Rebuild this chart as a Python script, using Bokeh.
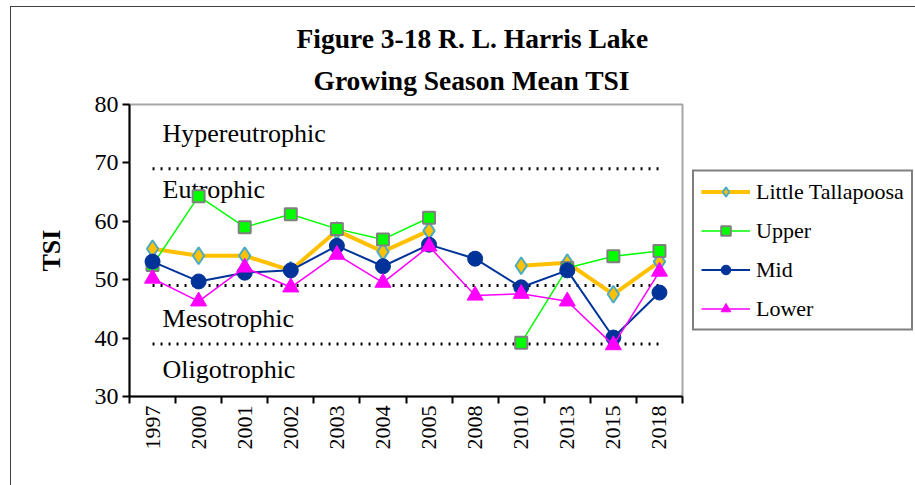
import math
import numpy as np
from bokeh.plotting import figure
from bokeh.models import (Range1d, LinearAxis, FixedTicker, Legend, LegendItem, Title)
from bokeh.core.properties import value
from bokeh.embed import file_html
from bokeh.resources import INLINE

# ---- data ----
years = ["1997", "2000", "2001", "2002", "2003", "2004", "2005", "2008", "2010", "2013", "2015", "2018"]
little_tallapoosa = [55.3, 54.1, 54.1, 51.6, 58.4, 54.8, 58.4, np.nan, 52.4, 52.9, 47.5, 53.1]
upper = [52.5, 64.3, 59.0, 61.2, 58.7, 56.9, 60.6, np.nan, 39.2, 52.0, 54.0, 54.9]
mid = [53.1, 49.7, 51.2, 51.6, 55.8, 52.3, 56.0, 53.6, 48.7, 51.6, 40.1, 47.8]
lower = [50.2, 46.3, 52.1, 48.7, 54.3, 49.5, 55.7, 47.3, 47.6, 46.3, 38.8, 51.4]
y_ticks = [30, 40, 50, 60, 70, 80]
zone_bounds = [69, 49, 39]
zone_names = ["Hypereutrophic", "Eutrophic", "Mesotrophic", "Oligotrophic"]
zone_label_y = [75.1, 65.5, 43.4, 34.7]
title_lines = ["Figure 3-18 R. L. Harris Lake", "Growing Season Mean TSI"]

FONT = "Liberation Serif"

# category slots: each year occupies one unit, centred at i + 0.5
n = len(years)
xc = [i + 0.5 for i in range(n)]

p = figure(frame_width=553, frame_height=292, x_range=Range1d(0, n), y_range=Range1d(30, 80),
           x_axis_location=None, output_backend="svg", toolbar_location=None,
           min_border_left=118, min_border_right=233, min_border_top=97, min_border_bottom=89,
           styles={"margin-left": "10px", "margin-top": "6px",
                   "border-left": "1px solid #404040", "border-top": "1px solid #404040"})
p.grid.visible = False
p.outline_line_color = "#a6a6a6"
p.outline_line_width = 2
p.background_fill_color = "white"
p.border_fill_color = "white"

# x axis: ticks at category boundaries, labels at centres
tick_axis = LinearAxis(ticker=FixedTicker(ticks=list(range(n + 1))),
                       major_label_overrides={i: "" for i in range(n + 1)},
                       major_label_text_font_size="1px", major_label_standoff=0,
                       major_tick_out=7, major_tick_in=0, minor_tick_line_color=None,
                       axis_line_width=2, major_tick_line_width=2,
                       axis_line_color="black", major_tick_line_color="black")
p.add_layout(tick_axis, "below")
label_axis = LinearAxis(ticker=FixedTicker(ticks=xc),
                        major_label_overrides={c: y for c, y in zip(xc, years)},
                        major_tick_line_color=None, minor_tick_line_color=None,
                        axis_line_color=None,
                        major_label_orientation=math.pi / 2, major_label_standoff=-4,
                        major_label_text_font=FONT, major_label_text_font_size="22px",
                        major_label_text_color="black")
p.add_layout(label_axis, "below")

# y axis
ya = p.yaxis[0]
ya.ticker = FixedTicker(ticks=y_ticks)
ya.major_tick_out = 7
ya.major_tick_in = 0
ya.minor_tick_line_color = None
ya.axis_line_width = 2
ya.major_tick_line_width = 2
ya.axis_line_color = "black"
ya.major_tick_line_color = "black"
ya.major_label_text_font = FONT
ya.major_label_text_font_size = "24px"
ya.major_label_text_color = "black"
ya.major_label_standoff = 4
ya.axis_label = "TSI"
ya.axis_label_text_font = FONT
ya.axis_label_text_font_style = "bold"
ya.axis_label_text_font_size = "26px"
ya.axis_label_text_color = "black"
ya.axis_label_standoff = 26

# zone boundaries
for b in zone_bounds:
    p.line(x=[xc[0], xc[-1]], y=[b, b], line_color="black", line_width=3, line_dash="2 6")

p.text(x=[xc[0]] * len(zone_names), y=zone_label_y, text=zone_names, x_offset=10,
       text_font=value(FONT), text_font_size="26px", text_color="black",
       text_baseline="alphabetic", text_align="left")

# series
items = []
r1 = p.line(xc, little_tallapoosa, line_color="#FFC000", line_width=4)
s1 = p.scatter(xc, little_tallapoosa, marker="diamond", size=17,
               fill_color="#FFC000", line_color="#4BACC6", line_width=2)
items.append(LegendItem(label="Little Tallapoosa", renderers=[r1, s1]))
r2 = p.line(xc, upper, line_color="#00FF00", line_width=1.5)
s2 = p.scatter(xc, upper, marker="square", size=12, fill_color="#00FF00",
               line_color="#808080", line_width=2)
items.append(LegendItem(label="Upper", renderers=[r2, s2]))
r3 = p.line(xc, mid, line_color="#003399", line_width=2)
s3 = p.scatter(xc, mid, marker="circle", size=15, fill_color="#003399",
               line_color="#003399", line_width=1)
items.append(LegendItem(label="Mid", renderers=[r3, s3]))
r4 = p.line(xc, lower, line_color="#FF00FF", line_width=1.5)
s4 = p.scatter(xc, lower, marker="triangle", size=16, fill_color="#FF00FF",
               line_color="#FF00FF", line_width=1)
items.append(LegendItem(label="Lower", renderers=[r4, s4]))

legend = Legend(items=items, location="center_left", margin=10, padding=7, spacing=13,
                glyph_width=49, glyph_height=24, label_standoff=6, label_height=22,
                label_text_font=FONT, label_text_font_size="22px", label_text_color="black",
                border_line_color="black", border_line_width=2, background_fill_color="white")
p.add_layout(legend, "right")

# title (two lines)
t2 = Title(text=title_lines[1], align="left", offset=184, text_font=FONT,
           text_font_size="27.5px", text_font_style="bold", text_color="black", standoff=18)
p.add_layout(t2, "above")
t1 = Title(text=title_lines[0], align="left", offset=167, text_font=FONT,
           text_font_size="27.5px", text_font_style="bold", text_color="black", standoff=0)
p.add_layout(t1, "above")

open("out.html", "w").write(file_html(p, INLINE))
